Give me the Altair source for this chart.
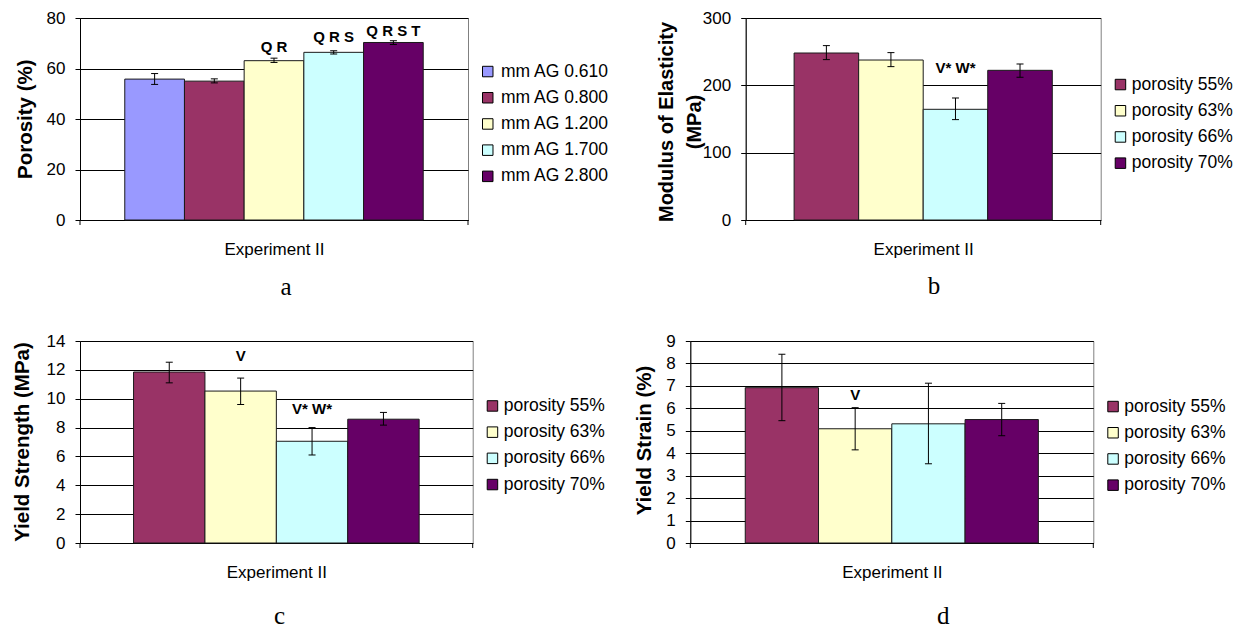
import altair as alt
import pandas as pd

# ---------------- data ----------------
series_a = ["mm AG 0.610", "mm AG 0.800", "mm AG 1.200", "mm AG 1.700", "mm AG 2.800"]
colors_a = ["#9999FF", "#993366", "#FFFFCC", "#CCFFFF", "#660066"]
porosity_mean = [55.8, 55.0, 63.1, 66.4, 70.3]
porosity_lo = [53.7, 54.3, 62.4, 65.7, 69.5]
porosity_hi = [58.0, 55.9, 64.1, 67.0, 71.0]
ann_a_series = ["mm AG 1.200", "mm AG 1.700", "mm AG 2.800"]
ann_a_text = ["Q R", "Q R S", "Q R S T"]
ann_a_y = [68.4, 72.4, 74.7]

series_p = ["porosity 55%", "porosity 63%", "porosity 66%", "porosity 70%"]
colors_p = ["#993366", "#FFFFCC", "#CCFFFF", "#660066"]

modulus_mean = [248.0, 237.6, 164.4, 222.3]
modulus_lo = [238.2, 227.8, 149.1, 212.0]
modulus_hi = [259.0, 248.6, 181.2, 231.7]
ann_b_series = ["porosity 66%"]
ann_b_text = ["V* W*"]
ann_b_y = [225.8]

yield_strength_mean = [11.85, 10.53, 7.05, 8.58]
yield_strength_lo = [11.1, 9.6, 6.1, 8.17]
yield_strength_hi = [12.53, 11.43, 8.0, 9.05]
ann_c_series = ["porosity 63%", "porosity 66%"]
ann_c_text = ["V", "V* W*"]
ann_c_y = [12.96, 9.3]

yield_strain_mean = [6.92, 5.09, 5.31, 5.5]
yield_strain_lo = [5.45, 4.15, 3.53, 4.78]
yield_strain_hi = [8.41, 6.03, 7.12, 6.22]
ann_d_series = ["porosity 63%"]
ann_d_text = ["V"]
ann_d_y = [6.58]

x_title = "Experiment II"
panel_letters = ["a", "b", "c", "d"]

FONT = "Liberation Sans"
H = 202


def panel(series, colors, mean, lo, hi, ann_s, ann_t, ann_y, ymax, step,
          ytitle, width, title_x, title_y, title_size, legend_y, label_offset,
          letter, letter_x, letter_y, anchor_x=None):
    df = pd.DataFrame({"s": series, "v": mean, "lo": lo, "hi": hi})
    ann = pd.DataFrame({"s": ann_s, "t": ann_t, "y": ann_y})
    one = pd.DataFrame({"letter": [letter]})

    xscale = alt.Scale(domain=series, paddingInner=0, paddingOuter=0.75)
    xaxis = alt.Axis(title=x_title, labels=False, ticks=False, domain=True,
                     domainColor="black", titleFontSize=17,
                     titleFontWeight="normal", titleY=29.5,
                     titleBaseline="middle", titleColor="black")
    X = alt.X("s:N", scale=xscale, axis=xaxis)

    yscale = alt.Scale(domain=[0, ymax], nice=False, zero=True)
    yaxis = alt.Axis(values=list(range(0, ymax + 1, step)), title=ytitle,
                     grid=True, gridColor="black", gridWidth=1,
                     tickColor="black", tickSize=5, domainColor="black",
                     labelFontSize=17, labelPadding=10, labelColor="black",
                     titleFontSize=title_size, titleFontWeight="bold",
                     titleAngle=270, titleX=title_x, titleY=title_y,
                     titleBaseline="middle", titleAlign="center",
                     titleLineHeight=28, titleColor="black")

    color = alt.Color("s:N", scale=alt.Scale(domain=series, range=colors),
                      legend=alt.Legend(title=None, orient="none",
                                        legendX=width + 11, legendY=legend_y,
                                        symbolType="square", symbolSize=110,
                                        symbolStrokeColor="black",
                                        symbolStrokeWidth=1, symbolOpacity=1,
                                        labelFontSize=17.5, labelOffset=label_offset,
                                        labelColor="black", rowPadding=7.2,
                                        padding=0, direction="vertical"))

    base = alt.Chart(df)
    bars = base.mark_bar(stroke="#1a1a1a", strokeWidth=1, opacity=1).encode(
        x=X, y=alt.Y("v:Q", scale=yscale, axis=yaxis), color=color)
    err = base.mark_rule(color="black", strokeWidth=1).encode(
        x=X, y=alt.Y("lo:Q", scale=yscale, axis=yaxis), y2="hi:Q")
    cap_lo = base.mark_tick(color="black", size=7, thickness=1, opacity=1).encode(
        x=X, y=alt.Y("lo:Q", scale=yscale, axis=yaxis))
    cap_hi = base.mark_tick(color="black", size=7, thickness=1, opacity=1).encode(
        x=X, y=alt.Y("hi:Q", scale=yscale, axis=yaxis))
    text = alt.Chart(ann).mark_text(font=FONT, fontSize=15, fontWeight="bold",
                                    baseline="middle", align="center",
                                    color="black").encode(
        x=X, y=alt.Y("y:Q", scale=yscale, axis=yaxis), text="t:N")
    edge_l = alt.Chart(one).mark_rule(color="black", strokeWidth=1).encode(
        x=alt.value(0), y=alt.value(H), y2=alt.value(H + 5))
    edge_r = alt.Chart(one).mark_rule(color="black", strokeWidth=1).encode(
        x=alt.value(width), y=alt.value(H), y2=alt.value(H + 5))
    let = alt.Chart(one).mark_text(font="Liberation Serif", fontSize=25,
                                   align="center", baseline="alphabetic",
                                   color="black").encode(
        x=alt.value(letter_x), y=alt.value(letter_y), text="letter:N")
    layers = [bars, err, cap_lo, cap_hi, text, edge_l, edge_r, let]
    if anchor_x is not None:
        anchor = alt.Chart(one).mark_rule(strokeOpacity=0, color="white").encode(
            x=alt.value(anchor_x), y=alt.value(100), y2=alt.value(101))
        layers.append(anchor)
    return alt.layer(*layers).properties(width=width, height=H)


pa = panel(series_a, colors_a, porosity_mean, porosity_lo, porosity_hi,
           ann_a_series, ann_a_text, ann_a_y, 80, 20, "Porosity (%)",
           388, -55, 100.7, 20.5, 44.8, 4.5, panel_letters[0], 206, 276.5)
pb = panel(series_p, colors_p, modulus_mean, modulus_lo, modulus_hi,
           ann_b_series, ann_b_text, ann_b_y, 300, 100,
           ["Modulus of Elasticity", "(MPa)"],
           355, -79.7, 103.5, 20, 57.8, 2.5, panel_letters[1], 188.3, 276)
pc = panel(series_p, colors_p, yield_strength_mean, yield_strength_lo,
           yield_strength_hi, ann_c_series, ann_c_text, ann_c_y, 14, 2,
           "Yield Strength (MPa)", 392.7, -58, 100.5, 20.5, 56.2, 2.5,
           panel_letters[2], 199.5, 283.3, anchor_x=-71)
pd_ = panel(series_p, colors_p, yield_strain_mean, yield_strain_lo,
            yield_strain_hi, ann_d_series, ann_d_text, ann_d_y, 9, 1,
            "Yield Strain (%)", 403, -46, 99, 20.5, 56.8, 2.5,
            panel_letters[3], 253, 283.3)

row1 = alt.hconcat(pa, pb, spacing=277.7, bounds="flush").resolve_scale(
    color="independent", x="independent", y="independent").resolve_legend(color="independent")
row2 = alt.hconcat(pc, pd_, spacing=217.3, bounds="flush").resolve_scale(
    color="independent", x="independent", y="independent").resolve_legend(color="independent")

# with flush bounds the nested row counts as zero height, so the spacing
# spans the first row's plot height plus the gap between rows
chart = alt.vconcat(row1, row2, spacing=H + 121, bounds="flush").resolve_scale(
    color="independent", x="independent", y="independent").resolve_legend(
    color="independent").properties(padding=0).configure(font=FONT).configure_view(
    stroke="#808080", strokeWidth=1).configure_axis(labelFont=FONT, titleFont=FONT)

chart.save("out.html", embed_options={"renderer": "svg", "actions": False})
